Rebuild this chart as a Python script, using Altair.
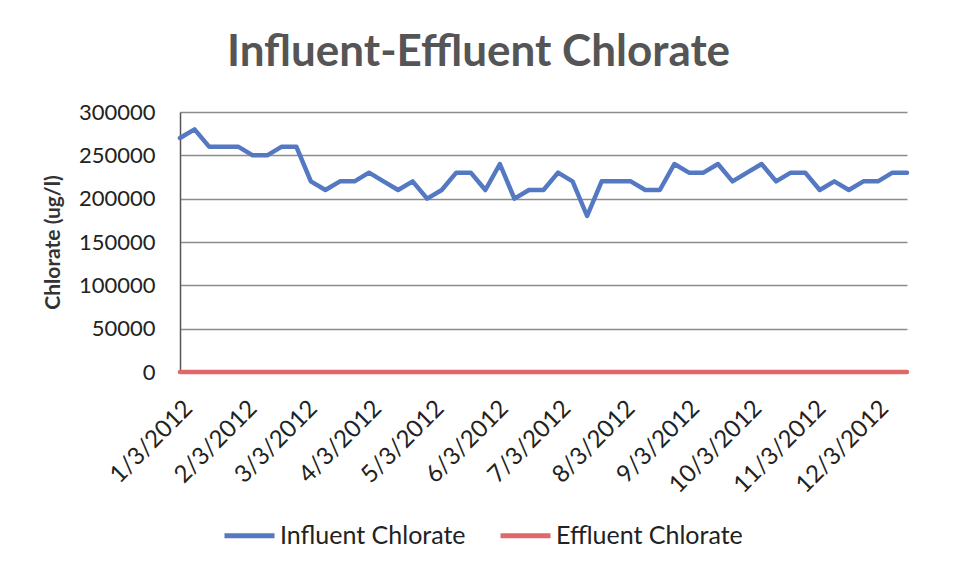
import altair as alt
import pandas as pd

dates = [
    "2012-01-03", "2012-01-10", "2012-01-17", "2012-01-24", "2012-01-31",
    "2012-02-07", "2012-02-14", "2012-02-21", "2012-02-28",
    "2012-03-06", "2012-03-13", "2012-03-20", "2012-03-27",
    "2012-04-03", "2012-04-10", "2012-04-17", "2012-04-24",
    "2012-05-01", "2012-05-08", "2012-05-15", "2012-05-22", "2012-05-29",
    "2012-06-05", "2012-06-12", "2012-06-19", "2012-06-26",
    "2012-07-03", "2012-07-10", "2012-07-17", "2012-07-24", "2012-07-31",
    "2012-08-07", "2012-08-14", "2012-08-21", "2012-08-28",
    "2012-09-04", "2012-09-11", "2012-09-18", "2012-09-25",
    "2012-10-02", "2012-10-09", "2012-10-16", "2012-10-23", "2012-10-30",
    "2012-11-06", "2012-11-13", "2012-11-20", "2012-11-27",
    "2012-12-04", "2012-12-11", "2012-12-18",
]

influent = [
    270000, 280000, 260000, 260000, 260000,
    250000, 250000, 260000, 260000,
    220000, 210000, 220000, 220000,
    230000, 220000, 210000, 220000,
    200000, 210000, 230000, 230000, 210000,
    240000, 200000, 210000, 210000,
    230000, 220000, 180000, 220000, 220000,
    220000, 210000, 210000, 240000,
    230000, 230000, 240000, 220000,
    230000, 240000, 220000, 230000, 230000,
    210000, 220000, 210000, 220000,
    220000, 230000, 230000,
]

effluent = [
    0, 0, 0, 0, 0, 0, 0, 0, 0, 0, 0, 0, 0, 0, 0, 0, 0,
    0, 0, 0, 0, 0, 0, 0, 0, 0, 0, 0, 0, 0, 0, 0, 0, 0,
    0, 0, 0, 0, 0, 0, 0, 0, 0, 0, 0, 0, 0, 0, 0, 0, 0,
]

series_names = ["Influent Chlorate", "Effluent Chlorate"]
series_colors = ["#5479c2", "#e0676a"]

tick_dates = [
    (2012, 1, 3), (2012, 2, 3), (2012, 3, 3), (2012, 4, 3), (2012, 5, 3), (2012, 6, 3),
    (2012, 7, 3), (2012, 8, 3), (2012, 9, 3), (2012, 10, 3), (2012, 11, 3), (2012, 12, 3),
]

rows = []
for d, v in zip(dates, influent):
    rows.append({"date": d, "series": series_names[0], "value": v})
for d, v in zip(dates, effluent):
    rows.append({"date": d, "series": series_names[1], "value": v})
df = pd.DataFrame(rows)

FONT = "Lato"

tick_vals = [alt.DateTime(year=y, month=m, date=dd, utc=True) for (y, m, dd) in tick_dates]

chart = alt.Chart(df).mark_line(strokeWidth=4.5, strokeJoin="round", strokeCap="round").encode(
    x=alt.X(
        "date:T",
        scale=alt.Scale(
            type="utc",
            domain=[alt.DateTime(year=2012, month=1, date=3, utc=True),
                    alt.DateTime(year=2012, month=12, date=18, utc=True)],
            nice=False,
        ),
        axis=alt.Axis(
            values=tick_vals,
            format="%-m/%-d/%Y",
            labelAngle=-45,
            title=None,
            grid=False,
            ticks=False,
            domain=False,
            labelFont=FONT,
            labelFontSize=24,
            labelColor="#222222",
            labelPadding=24,
            labelOverlap=False,
            labelFlush=False,
        ),
    ),
    y=alt.Y(
        "value:Q",
        scale=alt.Scale(domain=[0, 300000], nice=False),
        axis=alt.Axis(
            values=[0, 50000, 100000, 150000, 200000, 250000, 300000],
            format="d",
            title="Chlorate (ug/l)",
            titleFont=FONT,
            titleFontSize=21,
            titleFontWeight="bold",
            titleColor="#333333",
            titlePadding=15,
            labelFont=FONT,
            labelFontSize=22,
            labelColor="#222222",
            labelPadding=25,
            ticks=False,
            domainColor="#555555",
            domainWidth=1.5,
            gridColor="#8c8c8c",
            gridWidth=1.5,
        ),
    ),
    color=alt.Color(
        "series:N",
        scale=alt.Scale(domain=series_names, range=series_colors),
        sort=series_names,
        legend=alt.Legend(
            title=None,
            orient="none",
            legendX=42,
            legendY=396,
            direction="horizontal",
            symbolType="stroke",
            symbolSize=2500,
            symbolStrokeWidth=5,
            labelFont=FONT,
            labelFontSize=25,
            labelColor="#222222",
            labelOffset=3,
            labelLimit=0,
            columnPadding=24,
        ),
    ),
).properties(
    width=727,
    height=260,
    title=alt.TitleParams(
        text="Influent-Effluent Chlorate",
        font=FONT,
        fontSize=44,
        fontWeight="bold",
        color="#555555",
        anchor="middle",
        dx=-65,
        offset=26,
    ),
    autosize=alt.AutoSizeParams(type="none"),
    padding={"left": 172, "top": 104, "right": 43, "bottom": 197},
).configure_view(stroke=None)

chart.save("out.html", embed_options={"renderer": "svg", "actions": False})
